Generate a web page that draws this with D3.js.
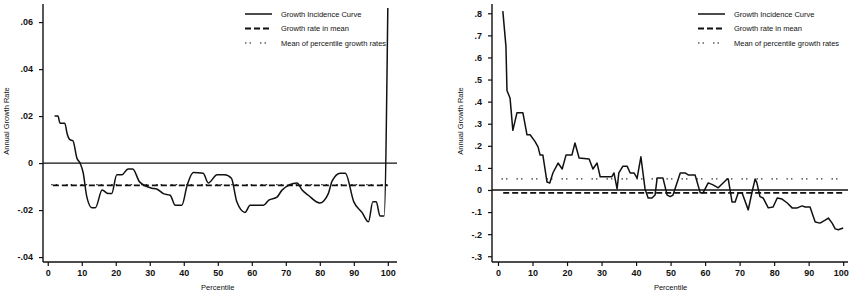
<!DOCTYPE html>
<html lang="en">
<head>
<meta charset="UTF-8">
<title>Growth Incidence Curves</title>
<script src="https://d3js.org/d3.v7.min.js"></script>
<style>
  body { margin: 0; background: #fff; }
  text { font-family: "Liberation Sans", Arial, sans-serif; fill: #111; }
</style>
</head>
<body>
<div id="chart"></div>
<script>
// ---- data ----
var legendLabels = ["Growth Incidence Curve", "Growth rate in mean", "Mean of percentile growth rates"];
var xTicks = [0, 10, 20, 30, 40, 50, 60, 70, 80, 90, 100];

// left panel
var leftTicksY = [-0.04, -0.02, 0, 0.02, 0.04, 0.06];
var leftPct = [2, 3, 3.6, 5, 5.7, 6.5, 7.4, 8.6, 9.5, 10.4, 11.5, 13, 14, 16, 17.8, 18.8, 20.3, 21.8, 23.6, 25,
  27, 30.6, 32, 34, 36, 37.5, 39.4, 41, 42.8, 45.7, 47.2, 49.8, 52, 54, 55.6, 58, 59.5, 63.4, 65, 67.4,
  68.9, 73.3, 74.8, 76.6, 80, 82.5, 83.6, 86, 87.5, 90, 92.4, 94.3, 95.6, 96.6, 97.7, 98.9, 100];
var leftGic = [0.020, 0.020, 0.017, 0.017, 0.0125, 0.010, 0.0095, 0.002, 0, -0.004, -0.0145, -0.019, -0.019, -0.0115, -0.013, -0.013, -0.005, -0.005, -0.0025, -0.0025,
  -0.008, -0.0107, -0.011, -0.013, -0.0137, -0.018, -0.018, -0.0094, -0.004, -0.0043, -0.0085, -0.005, -0.005, -0.0065, -0.0165, -0.021, -0.018, -0.018, -0.0158, -0.0145,
  -0.0115, -0.0085, -0.0115, -0.0137, -0.017, -0.013, -0.0077, -0.0043, -0.0043, -0.0165, -0.021, -0.025, -0.0165, -0.0165, -0.0225, -0.0225, 0.066];
var leftMeanGrowth = -0.0095;
var leftMeanPct = -0.0092;

// right panel
var rightTicksY = [-0.3, -0.2, -0.1, 0, 0.1, 0.2, 0.3, 0.4, 0.5, 0.6, 0.7, 0.8];
var rightPct = [1.4, 2.3, 2.6, 3.5, 4.3, 5.5, 7.2, 8.4, 9.3, 10.7, 11.6, 12.2, 13, 14.2, 15, 15.9, 17.4, 18.6, 19.7, 21.4,
  22.3, 23.5, 26.4, 27.5, 28.7, 29.6, 33, 33.6, 34.5, 35, 36.2, 37.4, 38.3, 39.4, 40.3, 41.4, 42.6, 43.5, 44.6, 45.5,
  46.1, 47.8, 49, 49.9, 50.7, 52.8, 54.2, 55.1, 57.1, 58.6, 59.4, 60.9, 62.3, 63.8, 65.2, 66.4, 66.7, 67.8, 68.7, 69.6,
  70.7, 72.5, 73.6, 74.5, 75, 75.9, 76.8, 78.3, 79.7, 80.9, 82.3, 83.8, 85.2, 86.7, 88.1, 89, 90.4, 91.9, 93.3, 94.8,
  95.7, 96.8, 97.7, 98.6, 100];
var rightGic = [0.81, 0.65, 0.45, 0.415, 0.27, 0.35, 0.35, 0.25, 0.25, 0.22, 0.195, 0.158, 0.158, 0.036, 0.032, 0.077, 0.122, 0.095, 0.158, 0.158,
  0.213, 0.145, 0.14, 0.095, 0.122, 0.06, 0.06, 0.077, 0.005, 0.077, 0.108, 0.108, 0.077, 0.077, 0.054, 0.15, 0.005, -0.036, -0.036, -0.023,
  0.054, 0.054, -0.023, -0.03, -0.023, 0.077, 0.077, 0.068, 0.068, -0.013, -0.013, 0.032, 0.023, 0.01, 0.032, 0.05, 0.05, -0.054, -0.054, -0.013,
  -0.013, -0.09, -0.009, 0.05, 0.032, -0.03, -0.036, -0.081, -0.077, -0.036, -0.041, -0.059, -0.081, -0.081, -0.072, -0.077, -0.077, -0.145, -0.15, -0.136,
  -0.127, -0.15, -0.176, -0.18, -0.172];
var rightMeanGrowth = -0.013;
var rightMeanPct = 0.05;

var W = 850, H = 294;
var svg = d3.select("#chart").append("svg").attr("width", W).attr("height", H);

function fmt(v) {
  if (Math.abs(v) < 1e-9) return "0";
  var s = d3.format("")(+v.toFixed(3));
  return s.replace("0.", ".").replace("−", "-");
}

function drawPanel(cfg) {
  var g = svg.append("g");
  var x = d3.scaleLinear().domain(cfg.xDomain).range([cfg.left, cfg.right]);
  var y = d3.scaleLinear().domain(cfg.yDomain).range([cfg.bottom, cfg.top]);

  // axes
  var yAxis = g.append("g").attr("transform", "translate(" + cfg.left + ",0)")
    .call(d3.axisLeft(y).tickValues(cfg.yTicks).tickSize(4).tickPadding(6).tickFormat(fmt));
  var xAxis = g.append("g").attr("transform", "translate(0," + cfg.bottom + ")")
    .call(d3.axisBottom(x).tickValues(xTicks).tickSize(4).tickPadding(4).tickFormat(d3.format("d")));
  [yAxis, xAxis].forEach(function(a) {
    a.select(".domain").attr("stroke", "#111").attr("stroke-width", 1.4);
    a.selectAll(".tick line").attr("stroke", "#111").attr("stroke-width", 1.2);
    a.selectAll("text")
      .style("font-size", "9px").style("font-weight", "bold").attr("fill", "#111");
  });
  yAxis.select(".domain").attr("d", "M0," + cfg.top + "V" + cfg.bottom);
  xAxis.select(".domain").attr("d", "M" + cfg.left + ",0H" + cfg.right);
  // last label sits against the page edge in the original
  xAxis.selectAll(".tick text").filter(function(d) { return d === 100; }).attr("dx", cfg.lastDx);

  // zero line
  g.append("line")
    .attr("x1", cfg.left).attr("x2", cfg.right)
    .attr("y1", y(0)).attr("y2", y(0))
    .attr("stroke", "#111").attr("stroke-width", 1.3);

  // mean of percentile growth rates (dotted)
  g.append("line")
    .attr("x1", x(1)).attr("x2", x(100))
    .attr("y1", y(cfg.meanPct)).attr("y2", y(cfg.meanPct))
    .attr("stroke", "#333").attr("stroke-width", 1.2)
    .attr("stroke-dasharray", "1.5,3,1.5,9");

  // growth rate in mean (dashed)
  g.append("line")
    .attr("x1", x(1.5)).attr("x2", x(100))
    .attr("y1", y(cfg.meanGrowth)).attr("y2", y(cfg.meanGrowth))
    .attr("stroke", "#111").attr("stroke-width", 1.8)
    .attr("stroke-dasharray", "6,3");

  // growth incidence curve
  var pts = cfg.pct.map(function(p, i) { return [p, cfg.gic[i]]; });
  var line = d3.line()
    .x(function(d) { return x(d[0]); })
    .y(function(d) { return y(d[1]); })
    .curve(cfg.curve);
  g.append("path").datum(pts)
    .attr("d", line)
    .attr("fill", "none").attr("stroke", "#111").attr("stroke-width", 1.5)
    .attr("stroke-linejoin", "round");

  // axis titles
  g.append("text")
    .attr("transform", "translate(" + cfg.yTitleX + "," + 121 + ") rotate(-90)")
    .attr("text-anchor", "middle").style("font-size", "7.5px")
    .text("Annual Growth Rate");
  g.append("text")
    .attr("x", x(50)).attr("y", 290)
    .attr("text-anchor", "middle").style("font-size", "7.5px")
    .text("Percentile");

  // legend
  var dashes = [null, "6,3", "1.5,3,1.5,9"];
  var widths = [1.5, 1.8, 1.2];
  legendLabels.forEach(function(lbl, i) {
    var ly = 14 + i * 14.5;
    g.append("line")
      .attr("x1", cfg.legendX).attr("x2", cfg.legendX + 27)
      .attr("y1", ly).attr("y2", ly)
      .attr("stroke", "#111").attr("stroke-width", widths[i])
      .attr("stroke-dasharray", dashes[i]);
    g.append("text")
      .attr("x", cfg.legendX + 36).attr("y", ly).attr("dy", "0.35em")
      .style("font-size", "7.5px")
      .text(lbl);
  });
}

drawPanel({
  left: 43, right: 397, top: 4, bottom: 262,
  xDomain: [-1.4, 102.7], yDomain: [-0.0421, 0.0677],
  yTicks: leftTicksY, pct: leftPct, gic: leftGic,
  meanGrowth: leftMeanGrowth, meanPct: leftMeanPct,
  curve: d3.curveMonotoneX, yTitleX: 9, legendX: 245, lastDx: 0
});

drawPanel({
  left: 492, right: 848, top: 4, bottom: 262,
  xDomain: [-1.74, 101.4], yDomain: [-0.326, 0.842],
  yTicks: rightTicksY, pct: rightPct, gic: rightGic,
  meanGrowth: rightMeanGrowth, meanPct: rightMeanPct,
  curve: d3.curveLinear, yTitleX: 463, legendX: 698, lastDx: -2.5
});
</script>
</body>
</html>
